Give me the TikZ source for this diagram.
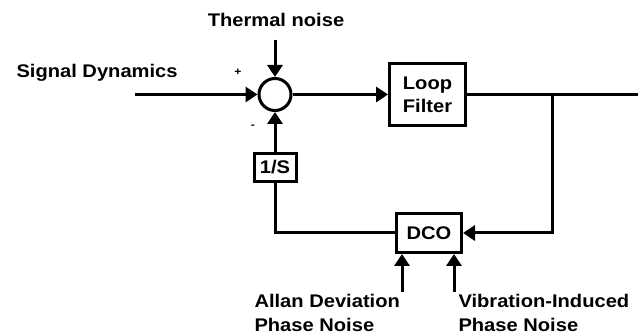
\documentclass[tikz,border=0pt]{standalone}
\usepackage{fontspec}
\setmainfont{Liberation Sans}[FakeStretch=1.1]
\usetikzlibrary{arrows.meta}
\begin{document}
\begin{tikzpicture}[x=1pt,y=-1pt, line width=3pt,
  tri/.style={-{Triangle[length=12pt,width=15pt]}},
  blk/.style={draw, inner sep=0pt, font=\fontsize{18.3}{23}\selectfont\bfseries, align=center},
  lbl/.style={inner sep=0pt, font=\fontsize{18.3}{24}\selectfont\bfseries, align=left},
  sgn/.style={inner sep=0pt, font=\fontsize{11}{11}\selectfont\bfseries}]
\useasboundingbox (0,0) rectangle (638,336);
\begin{scope}
\clip (0,0) rectangle (638,336);
\node[draw,circle,minimum size=32pt,inner sep=0pt] (sum) at (275,94.5) {};
\node[blk,minimum width=76pt,minimum height=62pt] (lf) at (427.5,94.5) {Loop\\Filter};
\node[blk,minimum width=65pt,minimum height=39pt] (dco) at (429,233) {DCO};
\node[blk,minimum width=42pt,minimum height=28pt] (inv) at (275,167.5) {1/S};
\node[lbl,anchor=base west] (sd) at (15,77.3) {Signal Dynamics};
\node[lbl,anchor=base] (tn) at (276,26.7) {Thermal noise};
\node[lbl,anchor=north west] (ad) at (253,293) {Allan Deviation\\Phase Noise};
\node[lbl,anchor=north west] (vi) at (457,293) {Vibration-Induced\\Phase Noise};
\node[sgn] (plus) at (238,72) {+};
\node[sgn] (minus) at (253,127) {-};
\coordinate (sin) at (135,94.5);
\coordinate (th) at (275,40);
\coordinate (br) at (552,94.5);
\coordinate (out) at (650,94.5);
\coordinate (a1) at (402,292);
\coordinate (a2) at (454,292);
\draw[tri] (sin) -- (sum);
\draw[tri] (th) -- (sum);
\draw[tri] (sum) -- (lf);
\draw[tri] (lf) -- (out);
\draw[tri] (br) |- (dco);
\draw (dco) -| (inv);
\draw[tri] (inv) -- (sum);
\draw[tri] (a1) -- (a1 |- dco.south);
\draw[tri] (a2) -- (a2 |- dco.south);
\end{scope}
\end{tikzpicture}
\end{document}
